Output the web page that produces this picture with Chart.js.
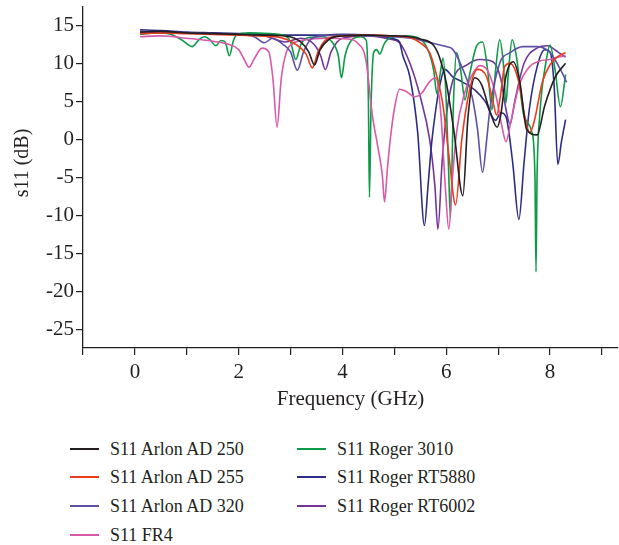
<!DOCTYPE html>
<html>
<head>
<meta charset="utf-8">
<script src="https://cdn.jsdelivr.net/npm/chart.js@4.4.1/dist/chart.umd.min.js"></script>
<style>
  html, body { margin: 0; padding: 0; background: #fff; }
  #wrap { position: relative; width: 619px; height: 545px; font-family: "Liberation Serif", serif; color: #231f20; }
  #chart { position: absolute; left: 0; top: 0; }
  .item { position: absolute; height: 22px; font-size: 18px; line-height: 22px; white-space: nowrap; }
  .item .swatch { position: absolute; left: 0; top: 10px; width: 29px; height: 2px; }
  .item .label { position: absolute; left: 40px; top: 0; }
</style>
</head>
<body>
<div id="wrap">
  <canvas id="chart" width="619" height="420"></canvas>
  <div id="legend"></div>
</div>
<script>
// s11 curves, frequency in GHz, values in dB
const arlon250Freq = [0.1, 0.5, 1.0, 1.5, 2.0, 2.5,
  2.9, 3.2, 3.35, 3.46, 3.57, 3.75,
  4.0, 4.5, 5.0, 5.3, 5.5, 5.75,
  5.87, 6.0, 6.15, 6.32, 6.42, 6.55,
  6.68, 6.85, 6.98, 7.05, 7.15, 7.29,
  7.42, 7.55, 7.75, 7.9, 8.1, 8.3];
const arlon250S11 = [14.1, 14.2, 14.0, 13.9, 13.8, 13.7,
  13.6, 12.8, 11.5, 9.8, 11.8, 13.2,
  13.6, 13.7, 13.6, 13.5, 13.2, 12.4,
  10.8, 7.5, 1, -7.4, 3, 8.1,
  7.2, 3.5, 1.6, 3.2, 8.3, 10.2,
  7.5, 1.3, 0.6, 4.5, 8.2, 10.0];

const arlon255Freq = [0.1, 0.5, 1.0, 1.5, 2.0, 2.4,
  2.8, 3.1, 3.3, 3.42, 3.53, 3.7,
  4.0, 4.5, 5.0, 5.3, 5.5, 5.68,
  5.8, 5.93, 6.05, 6.18, 6.3, 6.45,
  6.6, 6.78, 6.9, 6.97, 7.05, 7.12,
  7.23, 7.4, 7.5, 7.61, 7.7, 7.85,
  8.0, 8.13, 8.3];
const arlon255S11 = [13.9, 14.0, 13.9, 13.8, 13.7, 13.6,
  13.4, 12.5, 11.2, 9.4, 11.5, 13.2,
  13.6, 13.7, 13.6, 13.4, 12.7, 11.4,
  8.8, 4.8, -2, -8.6, 0, 6.5,
  9.2, 8.2, 5.0, 3.2, 6, 9.5,
  10.0, 7.5, 3.5, 0.9, 2.5, 7.5,
  9.8, 10.8, 11.4];

const arlon320Freq = [0.1, 0.5, 1.0, 1.5, 2.0, 2.3,
  2.5, 2.65, 2.85, 3.0, 3.13, 3.25,
  3.4, 3.6, 4.0, 4.5, 5.0, 5.4,
  5.7, 6.0, 6.13, 6.32, 6.5, 6.6,
  6.7, 6.78, 6.84, 7.03, 7.23, 7.48,
  7.75, 8.0, 8.23, 8.32];
const arlon320S11 = [14.2, 14.1, 14.0, 13.9, 13.8, 13.5,
  12.7, 13.3, 12.5, 11.5, 9.1, 11.5,
  13.2, 13.6, 13.7, 13.6, 13.5, 13.2,
  12.7, 12.2, 11.8, 9.2, 5.6, 1.5,
  -4.3, 0, 3.9, 10, 11.4, 12.2,
  12.2, 11.4, 8.8, 7.5];

const fr4Freq = [0.1, 0.5, 1.0, 1.5, 1.8, 2.0,
  2.1, 2.2, 2.3, 2.45, 2.58, 2.66,
  2.74, 2.82, 2.92, 3.05, 3.3, 3.7,
  4.1, 4.3, 4.45, 4.58, 4.68, 4.77,
  4.81, 4.87, 4.93, 5.0, 5.1, 5.23,
  5.39, 5.53, 5.68, 5.8, 5.9, 5.98,
  6.05, 6.12, 6.2, 6.35, 6.5, 6.65,
  6.8, 6.95, 7.08, 7.15, 7.25, 7.4,
  7.6, 7.8, 8.0, 8.15, 8.3];
const fr4S11 = [13.5, 13.6, 13.3, 12.9, 12.5, 11.8,
  10.6, 9.5, 10.6, 12.0, 11.5, 8,
  1.6, 8, 11.5, 12.6, 13.1, 13.3,
  13.2, 12.6, 10.5, 3.0, -0.9, -4.8,
  -8.2, -3.5, 0.5, 4, 6.6, 6.3,
  5.6, 6.1, 7.6, 8.1, 3, -6,
  -11.8, -5, 1, 6, 8.5, 9.7,
  9, 6, 1.5, -0.3, 2.5, 7,
  9.5, 10.3, 10.5, 10.8, 11];

const roger3010Freq = [0.1, 0.4, 0.7, 0.9, 1.1, 1.25,
  1.35, 1.46, 1.56, 1.66, 1.74, 1.82,
  1.9, 1.97, 2.2, 2.6, 2.9, 3.0,
  3.1, 3.2, 3.35, 3.6, 3.8, 3.92,
  3.98, 4.05, 4.2, 4.35, 4.46, 4.5,
  4.52, 4.55, 4.6, 4.66, 4.72, 4.8,
  4.9, 5.2, 5.5, 5.68, 5.76, 5.82,
  5.88, 5.94, 6.0, 6.05, 6.08, 6.14,
  6.2, 6.28, 6.36, 6.45, 6.58, 6.7,
  6.8, 6.88, 6.95, 7.03, 7.1, 7.15,
  7.2, 7.27, 7.35, 7.5, 7.65, 7.71,
  7.73, 7.75, 7.8, 7.93, 8.0, 8.1,
  8.2, 8.3];
const roger3010S11 = [13.8, 14.0, 13.8, 13.1, 12.2, 13.2,
  13.5, 13.0, 12.3, 13.0, 12.8, 11.0,
  13.0, 13.8, 14.0, 13.9, 13.6, 12.8,
  10.5, 12.5, 13.4, 13.5, 12.8, 11,
  8.1, 11, 13.2, 13.5, 13.0, 5,
  -7.6, 4, 11.4, 11.8, 11.2, 12.5,
  13.3, 13.6, 13.2, 11.2, 9, 6,
  8.5, 10.7, 5, -5, -10.2, 5,
  11.4, 9, 5.2, 8.5, 12.2, 12.8,
  9, 3.9, 9, 13.1, 10, 4.8,
  9, 13.1, 11, 3, 1, -5,
  -17.4, -5, 3, 10.5, 12.4, 9,
  4.3, 8.5];

const rt5880Freq = [0.1, 0.5, 1.0, 1.5, 2.0, 2.5,
  3.0, 3.5, 4.0, 4.5, 4.8, 5.0,
  5.1, 5.16, 5.3, 5.45, 5.58, 5.65,
  5.72, 5.8, 5.87, 5.97, 6.13, 6.3,
  6.55, 6.75, 6.95, 7.05, 7.15, 7.28,
  7.4, 7.5, 7.6, 7.75, 7.9, 8.0,
  8.08, 8.15, 8.22, 8.3];
const rt5880S11 = [14.4, 14.3, 14.1, 14.0, 13.9, 13.8,
  13.7, 13.7, 13.8, 13.7, 13.5, 13.2,
  12.8, 11.1, 8.2, 0.9, -11.3, -6,
  -0.4, 4, 6.9, 9.2, 8.2, 7.6,
  6.5, 5, 2.5, 3.5, 3, -3,
  -10.5, -3, 3.9, 9.5, 11.8, 11.5,
  7, -3.3, -0.3, 2.6];

const rt6002Freq = [0.1, 0.5, 1.0, 1.5, 2.0, 2.5,
  2.9, 3.2, 3.45, 3.58, 3.67, 3.78,
  4.0, 4.5, 4.9, 5.1, 5.3, 5.5,
  5.68, 5.78, 5.84, 5.92, 6.0, 6.13,
  6.4, 6.65, 6.9, 7.05, 7.15, 7.23,
  7.32, 7.5, 7.75, 7.95, 8.15, 8.3];
const rt6002S11 = [14.0, 14.1, 14.0, 13.9, 13.8, 13.6,
  12.8, 13.3, 12.5, 11.0, 9.2, 11.5,
  13.3, 13.6, 13.2, 12.7, 10, 5.6,
  0, -6, -11.8, -3, 3, 7.8,
  9.8, 10.5, 10.2, 8, 4, 2,
  5, 10, 12, 12.3, 11.5, 10.8];

const seriesNames = ['S11 Arlon AD 250', 'S11 Arlon AD 255', 'S11 Arlon AD 320', 'S11 FR4',
  'S11 Roger 3010', 'S11 Roger RT5880', 'S11 Roger RT6002'];
const seriesColors = ['#231f20', '#ee3b1f', '#5e51a3', '#d85aa8', '#0c9a48', '#2e2d86', '#74359a'];

const xTicks = [-1, 0, 1, 2, 3, 4, 5, 6, 7, 8, 9];
const xTickLabels = ['', '0', '', '2', '', '4', '', '6', '', '8', ''];
const yTicks = [-25, -22.5, -20, -17.5, -15, -12.5, -10, -7.5, -5, -2.5, 0, 2.5, 5, 7.5, 10, 12.5, 15];
const yTickLabels = ['-25', '', '-20', '', '-15', '', '-10', '', '-5', '', '0', '', '5', '', '10', '', '15'];

const freqs = [arlon250Freq, arlon255Freq, arlon320Freq, fr4Freq, roger3010Freq, rt5880Freq, rt6002Freq];
const values = [arlon250S11, arlon255S11, arlon320S11, fr4S11, roger3010S11, rt5880S11, rt6002S11];

const datasets = seriesNames.map((name, i) => ({
    label: name,
    data: freqs[i].map((f, j) => ({ x: f, y: values[i][j] })),
    borderColor: seriesColors[i],
    backgroundColor: seriesColors[i],
    borderWidth: 1.6,
    pointRadius: 0,
    fill: false,
    cubicInterpolationMode: 'monotone'
}));

const ink = '#231f20';
const serif = '"Liberation Serif", "Times New Roman", serif';

// y title sits a bit above the axis middle in the figure, so draw it by hand
const yTitlePlugin = {
    id: 'yTitle',
    afterDraw(chart) {
        const ctx = chart.ctx;
        ctx.save();
        ctx.translate(23, 163);
        ctx.rotate(-Math.PI / 2);
        ctx.font = '20px ' + serif;
        ctx.fillStyle = ink;
        ctx.textAlign = 'center';
        ctx.textBaseline = 'middle';
        ctx.fillText('s11 (dB)', 0, 0);
        ctx.restore();
    }
};

new Chart(document.getElementById('chart').getContext('2d'), {
    type: 'line',
    data: { datasets: datasets },
    plugins: [yTitlePlugin],
    options: {
        responsive: false,
        animation: false,
        layout: { padding: { top: 7, right: 1, left: 0, bottom: 0 } },
        plugins: { legend: { display: false }, tooltip: { enabled: false } },
        scales: {
            x: {
                type: 'linear',
                min: -1,
                max: 9.31,
                afterBuildTicks: axis => { axis.ticks = xTicks.map(v => ({ value: v })); },
                afterFit: axis => { axis.height = 72; axis.paddingLeft = 0; axis.paddingRight = 0; },
                border: { display: true, color: ink, width: 1.3 },
                grid: { drawOnChartArea: false, drawTicks: true, tickLength: 7, color: ink, lineWidth: 1.2 },
                ticks: {
                    padding: 5,
                    color: ink,
                    font: { family: serif, size: 21 },
                    callback: (v, i) => xTickLabels[i]
                },
                title: {
                    display: true,
                    text: 'Frequency (GHz)',
                    color: ink,
                    font: { family: serif, size: 21 },
                    padding: { top: 0, bottom: 8 }
                }
            },
            y: {
                min: -27.4,
                max: 17.4,
                afterBuildTicks: axis => { axis.ticks = yTicks.map(v => ({ value: v })); },
                afterFit: axis => { axis.width = 83; axis.paddingTop = 0; axis.paddingBottom = 0; },
                border: { display: true, color: ink, width: 1.3 },
                grid: { drawOnChartArea: false, drawTicks: true, tickLength: 7, color: ink, lineWidth: 1.2 },
                ticks: {
                    padding: 2,
                    color: ink,
                    font: { family: serif, size: 21 },
                    callback: (v, i) => yTickLabels[i]
                }
            }
        }
    }
});

// legend in two columns, like the figure
const legendSlots = [[70, 449], [70, 477], [70, 506], [70, 535], [297, 449], [297, 477], [297, 506]];
const legend = document.getElementById('legend');
seriesNames.forEach((name, i) => {
    const item = document.createElement('div');
    item.className = 'item';
    item.style.left = legendSlots[i][0] + 'px';
    item.style.top = (legendSlots[i][1] - 11) + 'px';
    item.innerHTML = '<span class="swatch" style="background:' + seriesColors[i] + '"></span><span class="label"></span>';
    item.querySelector('.label').textContent = name;
    legend.appendChild(item);
});
</script>
</body>
</html>
